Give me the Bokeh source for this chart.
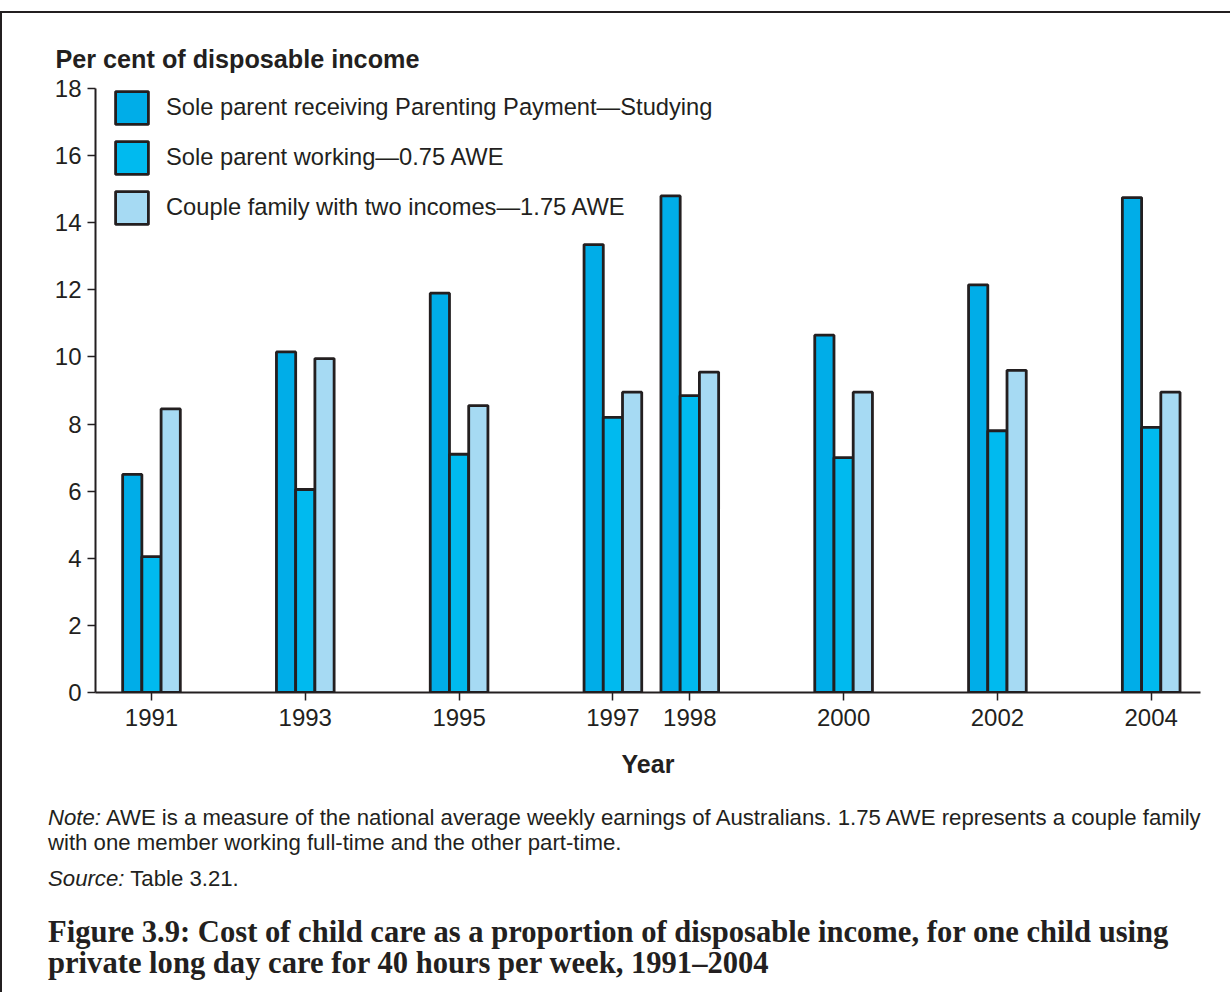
from bokeh.plotting import figure
from bokeh.models import (Range1d, FixedTicker, Legend, LegendItem,
                          ColumnDataSource, Div, Spacer)
from bokeh.layouts import column
from bokeh.embed import file_html
from bokeh.resources import INLINE

# ---------------- data ----------------
years = [1991, 1993, 1995, 1997, 1998, 2000, 2002, 2004]
studying = [6.5, 10.15, 11.9, 13.35, 14.8, 10.65, 12.15, 14.75]
working = [4.05, 6.05, 7.1, 8.2, 8.85, 7.0, 7.8, 7.9]
couple = [8.45, 9.95, 8.55, 8.95, 9.55, 8.95, 9.6, 8.95]
series_names = [
    "Sole parent receiving Parenting Payment\u2014Studying",
    "Sole parent working\u20140.75 AWE",
    "Couple family with two incomes\u20141.75 AWE",
]
y_ticks = [0, 2, 4, 6, 8, 10, 12, 14, 16, 18]
y_title = "Per cent of disposable income"
x_title = "Year"
note_lead = "Note:"
note_text = ("AWE is a measure of the national average weekly earnings of "
             "Australians. 1.75 AWE represents a couple family")
note_text2 = "with one member working full-time and the other part-time."
source_lead = "Source:"
source_text = "Table 3.21."
caption1 = ("Figure 3.9: Cost of child care as a proportion of disposable "
            "income, for one child using")
caption2 = "private long day care for 40 hours per week, 1991\u20132004"

# ---------------- layout ----------------
INK = "#231F20"
C1, C2, C3 = "#00ADE8", "#00BAEF", "#A6DAF3"
SANS = "Liberation Sans"
SERIF = "Liberation Serif"

FW, FH = 1226, 787
L, R, T, B = 93, 1198, 75, 679          # frame edges in figure canvas px

p = figure(width=FW, height=FH, output_backend="svg", toolbar_location=None,
           x_range=Range1d(1990.272, 2004.641), y_range=Range1d(0, 18),
           min_border_left=L, min_border_right=FW - R,
           min_border_top=T, min_border_bottom=FH - B)
p.outline_line_color = None
p.xgrid.grid_line_color = None
p.ygrid.grid_line_color = None

p.title.text = y_title
p.title.align = "left"
p.title.offset = -40
p.title.standoff = 31
p.title.text_font = SANS
p.title.text_font_size = "25.2px"
p.title.text_font_style = "bold"
p.title.text_color = INK

bw = 0.25
src = ColumnDataSource(dict(
    x1=[y - bw for y in years], x2=list(years), x3=[y + bw for y in years],
    s1=studying, s2=working, s3=couple))
common = dict(width=bw, bottom=0, line_color=INK, line_width=2.8)
r1 = p.vbar(x="x1", top="s1", source=src, fill_color=C1, **common)
r2 = p.vbar(x="x2", top="s2", source=src, fill_color=C2, **common)
r3 = p.vbar(x="x3", top="s3", source=src, fill_color=C3, **common)

legend = Legend(items=[LegendItem(label=series_names[0], renderers=[r1]),
                       LegendItem(label=series_names[1], renderers=[r2]),
                       LegendItem(label=series_names[2], renderers=[r3])],
                location=(16, 464), orientation="vertical",
                glyph_width=41, glyph_height=41, spacing=9,
                label_standoff=14, padding=0, margin=0,
                label_text_font=SANS, label_text_font_size="23.7px",
                label_text_color=INK, label_height=41,
                border_line_color=None, background_fill_alpha=0)
p.add_layout(legend)

for ax in (p.xaxis[0], p.yaxis[0]):
    ax.axis_line_color = INK
    ax.axis_line_width = 2
    ax.major_tick_line_color = INK
    ax.major_tick_line_width = 1.5
    ax.major_tick_in = 0
    ax.major_tick_out = 8
    ax.minor_tick_line_color = None
    ax.major_label_text_font = SANS
    ax.major_label_text_font_size = "24px"
    ax.major_label_text_color = INK

p.yaxis[0].ticker = FixedTicker(ticks=y_ticks)
p.yaxis[0].major_label_standoff = 6
p.xaxis[0].ticker = FixedTicker(ticks=years)
p.xaxis[0].major_label_standoff = 8
p.xaxis[0].axis_label = x_title
p.xaxis[0].axis_label_text_font = SANS
p.xaxis[0].axis_label_text_font_style = "bold"
p.xaxis[0].axis_label_text_font_size = "25px"
p.xaxis[0].axis_label_text_color = INK
p.xaxis[0].axis_label_standoff = 21

def line(top, left, size, lh, html, font=SANS, weight="normal"):
    return (f'<div style="position:absolute;top:{top}px;left:{left}px;'
            f'white-space:nowrap;font-family:\'{font}\';font-size:{size}px;'
            f'line-height:{lh}px;font-weight:{weight};color:{INK};">{html}</div>')

html = ('<div style="position:relative;width:1216px;height:185px;">'
        + line(0, 41, 22.2, 26, f'<i>{note_lead}</i> {note_text}')
        + line(25, 41, 22.2, 26, note_text2)
        + line(61, 41, 22.2, 26, f'<i>{source_lead}</i> {source_text}')
        + line(111.5, 41, 30.6, 31, caption1, font=SERIF, weight="bold")
        + line(142.5, 41, 30.6, 31, caption2, font=SERIF, weight="bold")
        + '</div>')
notes = Div(text=html, width=1226, height=190)

framed = column(p, notes, spacing=0,
                styles={"border-top": f"2px solid {INK}",
                        "border-left": f"2px solid {INK}",
                        "border-right": f"2px solid {INK}"})
page = column(Spacer(width=1230, height=11), framed, spacing=0)

open("out.html", "w").write(file_html(page, INLINE))
